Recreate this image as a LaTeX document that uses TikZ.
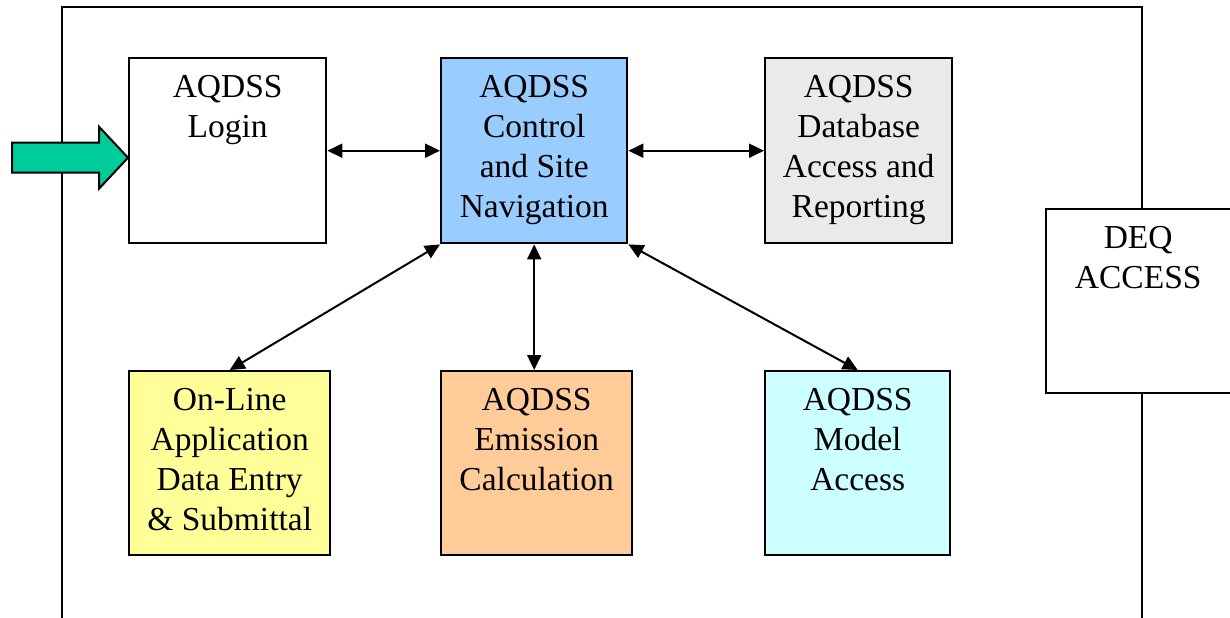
\documentclass[tikz,border=0pt]{standalone}
\usepackage{fontspec}
\setmainfont{Liberation Serif}
\usetikzlibrary{arrows.meta}
\definecolor{ctrlblue}{HTML}{99CCFF}
\definecolor{dbgray}{HTML}{EAEAEA}
\definecolor{entryyellow}{HTML}{FFFF99}
\definecolor{emisorange}{HTML}{FFCC99}
\definecolor{modelcyan}{HTML}{CCFFFF}
\definecolor{entrygreen}{HTML}{00CC99}
\newcommand{\blocktext}[3]{\parbox[c][#2][t]{#1}{\centering\rule{0pt}{19.5pt}#3}}
\tikzset{
  block/.style={draw,line width=1.2pt,inner sep=0pt,anchor=north west,fill=white},
  link/.style={line width=1pt,{Triangle[length=7.5pt,width=7pt]}-{Triangle[length=7.5pt,width=7pt]}}
}
\begin{document}
\begin{tikzpicture}[x=0.5pt,y=-0.5pt,font=\fontsize{16.75}{20}\selectfont]
\useasboundingbox (0,0) rectangle (1230,617);
% outer frame, open at the bottom
\draw[line width=1.2pt] (62,640) -- (62,7) -- (1142,7) -- (1142,640);
\node[block] (login) at (128,57) {\blocktext{98.5pt}{92.5pt}{AQDSS\\Login}};
\node[block,fill=ctrlblue] (ctrl) at (440,57) {\blocktext{93pt}{92.5pt}{AQDSS\\Control\\and Site\\Navigation}};
\node[block,fill=dbgray] (db) at (764,57) {\blocktext{93.5pt}{92.5pt}{AQDSS\\Database\\Access and\\Reporting}};
\node[block,fill=entryyellow] (online) at (128,370) {\blocktext{100.5pt}{92pt}{On-Line\\Application\\Data Entry\\\&~Submittal}};
\node[block,fill=emisorange] (emis) at (440,370) {\blocktext{95.5pt}{92pt}{AQDSS\\Emission\\Calculation}};
\node[block,fill=modelcyan] (model) at (764,370) {\blocktext{92.5pt}{92pt}{AQDSS\\Model\\Access}};
\node[block] (deq) at (1045,208) {\blocktext{100pt}{92pt}{\hspace*{-8pt}DEQ\\\hspace*{-8pt}ACCESS}};
% entry arrow
\coordinate (tip) at ([yshift=-3.5pt]login.west);
\draw[line width=1pt,fill=entrygreen] ([shift={(-116,-15)}]tip) -- ([shift={(-29,-15)}]tip)
  -- ([shift={(-29,-31)}]tip) -- (tip) -- ([shift={(-29,31)}]tip)
  -- ([shift={(-29,15)}]tip) -- ([shift={(-116,15)}]tip) -- cycle;
\path[]
    (login.east) [link] edge (ctrl.west)
    (ctrl.east) [link] edge (db.west)
    (ctrl.south west) [link] edge (online.north)
    (ctrl.south) [link] edge (ctrl.south |- emis.north)
    (ctrl.south east) [link] edge (model.north);
\end{tikzpicture}
\end{document}
